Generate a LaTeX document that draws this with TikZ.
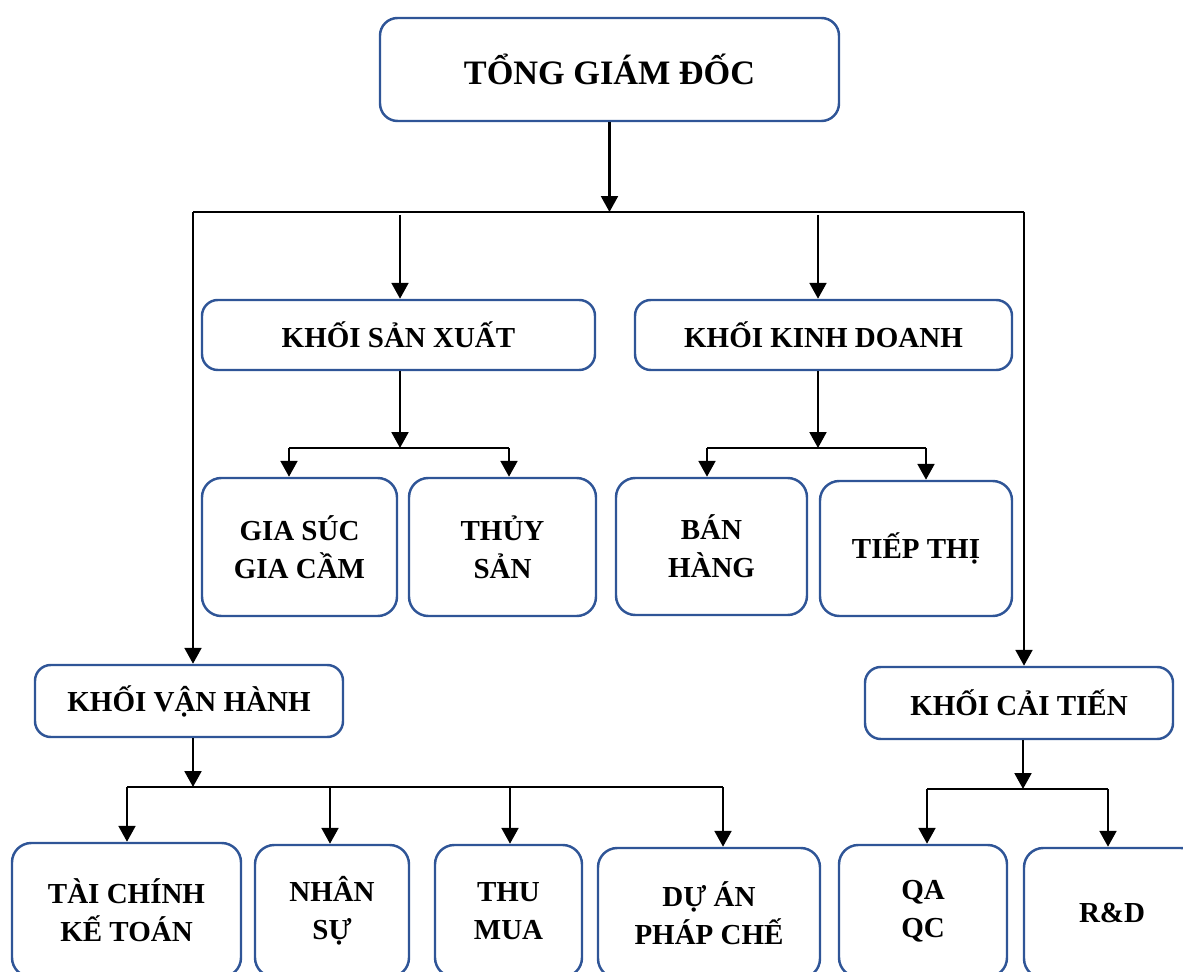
\documentclass[tikz,border=0pt]{standalone}
\usepackage{fontspec}
\setmainfont{Liberation Serif}
\usetikzlibrary{arrows.meta}
\definecolor{boxblue}{RGB}{47,85,151}
\begin{document}
\begin{tikzpicture}[x=0.02cm,y=-0.02cm,
  unit/.style={draw=boxblue, line width=1.4pt, rounded corners=9pt, fill=white,
    align=center, inner sep=0pt,
    font=\fontsize{16.5}{21.5}\selectfont\bfseries},
  size/.style 2 args={minimum width=#1*0.02cm, minimum height=#2*0.02cm},
  link/.style={line width=1.5pt, black},
  arr/.style={link, -{Triangle[length=9pt,width=9.5pt]}}]
\useasboundingbox (0,0) rectangle (1183,972);
\clip (0,0) rectangle (1183,972);

% top level
\node[unit, size={459}{103}, rounded corners=10pt,
  font=\fontsize{19.5}{24}\selectfont\bfseries] (tgd) at (609.5,69.5) {TỔNG GIÁM ĐỐC};

% divisions
\node[unit, size={393}{70}] (ksx) at (398.5,335) {KHỐI SẢN XUẤT};
\node[unit, size={377}{70}] (kkd) at (823.5,335) {KHỐI KINH DOANH};
\node[unit, size={308}{72}] (kvh) at (189,701) {KHỐI VẬN HÀNH};
\node[unit, size={308}{72}] (kct) at (1019,703) {KHỐI CẢI TIẾN};

% production / business units
\node[unit, size={195}{138}, rounded corners=11pt] (gsgc) at (299.5,547) {GIA SÚC\\GIA CẦM};
\node[unit, size={187}{138}, rounded corners=11pt] (ts) at (502.5,547) {THỦY\\SẢN};
\node[unit, size={191}{137}, rounded corners=11pt] (bh) at (711.5,546.5) {BÁN\\HÀNG};
\node[unit, size={192}{135}, rounded corners=11pt] (tt) at (916,548.5) {TIẾP THỊ};

% operations / improvement units
\node[unit, size={229}{134}, rounded corners=11pt] (tckt) at (126.5,910) {TÀI CHÍNH\\KẾ TOÁN};
\node[unit, size={154}{132}, rounded corners=11pt] (ns) at (332,911) {NHÂN\\SỰ};
\node[unit, size={147}{132}, rounded corners=11pt] (tm) at (508.5,911) {THU\\MUA};
\node[unit, size={222}{130}, rounded corners=11pt] (dapc) at (709,913) {DỰ ÁN\\PHÁP CHẾ};
\node[unit, size={168}{132}, rounded corners=11pt] (qaqc) at (923,911) {QA\\QC};
\node[unit, size={176}{130}, rounded corners=11pt] (rd) at (1112,913) {R\&D};

% main bus
\coordinate (busL) at (193,212);
\coordinate (busR) at (1024,212);
\draw[link] (busL) -- (busR);
\draw[arr] (tgd.south) -- (tgd.south |- busL);
\draw[arr] (busL) -- (busL |- kvh.north);
\draw[arr] (busR) -- (busR |- kct.north);
\coordinate (dropS) at (400,215);
\coordinate (dropK) at (818,215);
\draw[arr] (dropS) -- (dropS |- ksx.north);
\draw[arr] (dropK) -- (dropK |- kkd.north);

% production branch
\coordinate (sxbus) at (400,448);
\coordinate (sxL) at (289,448);
\coordinate (sxR) at (509,448);
\draw[arr] (ksx.south -| sxbus) -- (sxbus);
\draw[link] (sxL) -- (sxR);
\draw[arr] (sxL) -- (sxL |- gsgc.north);
\draw[arr] (sxR) -- (sxR |- ts.north);

% business branch
\coordinate (kdbus) at (818,448);
\coordinate (kdL) at (707,448);
\coordinate (kdR) at (926,448);
\draw[arr] (kkd.south -| kdbus) -- (kdbus);
\draw[link] (kdL) -- (kdR);
\draw[arr] (kdL) -- (kdL |- bh.north);
\draw[arr] (kdR) -- (kdR |- tt.north);

% operations branch
\coordinate (vhbus) at (193,787);
\coordinate (vh1) at (127,787);
\coordinate (vh2) at (330,787);
\coordinate (vh3) at (510,787);
\coordinate (vh4) at (723,787);
\draw[arr] (kvh.south -| vhbus) -- (vhbus);
\draw[link] (vh1) -- (vh4);
\draw[arr] (vh1) -- (vh1 |- tckt.north);
\draw[arr] (vh2) -- (vh2 |- ns.north);
\draw[arr] (vh3) -- (vh3 |- tm.north);
\draw[arr] (vh4) -- (vh4 |- dapc.north);

% improvement branch
\coordinate (ctbus) at (1023,789);
\coordinate (ctL) at (927,789);
\coordinate (ctR) at (1108,789);
\draw[arr] (kct.south -| ctbus) -- (ctbus);
\draw[link] (ctL) -- (ctR);
\draw[arr] (ctL) -- (ctL |- qaqc.north);
\draw[arr] (ctR) -- (ctR |- rd.north);
\end{tikzpicture}
\end{document}
